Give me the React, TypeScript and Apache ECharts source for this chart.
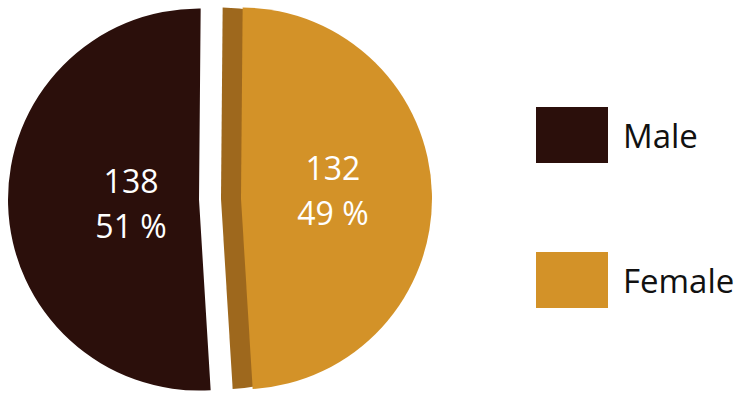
import React, { useEffect, useRef } from "react";
import * as echarts from "echarts";

const categories = ["Male", "Female"];
const counts = [138, 132];
const percents = [51, 49];
const colors = ["#2b0f0b", "#d39228"];
const sideColor = "#9e681d";

export default function App() {
  const ref = useRef<HTMLDivElement>(null);
  useEffect(() => {
    document.body.style.margin = "0";
    const chart = echarts.init(ref.current!, null, { renderer: "svg" });
    const R = 191;
    const base = (extra: any) => ({
      type: "pie",
      startAngle: 89.5,
      clockwise: false,
      selectedMode: "multiple",
      selectedOffset: 21,
      radius: [0, R],
      center: [220, 199],
      silent: true,
      emphasis: { disabled: true },
      labelLine: { show: false },
      ...extra,
    });
    const mainData = categories.map((c, i) => ({
      name: c,
      value: counts[i],
      selected: true,
      itemStyle: { color: colors[i], borderWidth: 0 },
    }));
    const sideData = categories.map((c, i) => ({
      name: c + " side",
      value: counts[i],
      selected: true,
      itemStyle: { color: i === 1 ? sideColor : "rgba(0,0,0,0)", borderWidth: 0 },
    }));
    const labelData = (show: number) =>
      categories.map((c, i) => ({
        name: c + " label",
        value: counts[i],
        selected: true,
        itemStyle: { color: "rgba(0,0,0,0)", borderWidth: 0 },
        label: {
          show: i === show,
          position: "inside",
          formatter: `${counts[i]}\n${percents[i]} %`,
          color: "#ffffff",
          fontSize: 32,
          lineHeight: 45,
          fontFamily: "Open Sans",
        },
      }));
    chart.setOption({
      animation: false,
      legend: {
        orient: "vertical",
        left: 531,
        top: 102,
        itemWidth: 72,
        itemHeight: 56,
        itemGap: 89,
        icon: "rect",
        selectedMode: false,
        data: categories.map((c, i) => ({ name: c, itemStyle: { color: colors[i] } })),
        textStyle: { fontSize: 33, color: "#111111", fontFamily: "Open Sans", padding: [0, 0, 0, 10] },
      },
      series: [
        base({ name: "side", center: [200, 199], data: sideData, label: { show: false } }),
        base({ name: "gender", data: mainData, label: { show: false } }),
        base({ name: "labelsM", radius: [0, 130], center: [220, 201], data: labelData(0) }),
        base({ name: "labelsF", radius: [0, 180], center: [219, 193], data: labelData(1) }),
      ],
    });
    return () => chart.dispose();
  }, []);
  return (
    <div
      ref={ref}
      style={{ position: "absolute", left: 0, top: 0, width: 738, height: 393, background: "#ffffff" }}
    />
  );
}
